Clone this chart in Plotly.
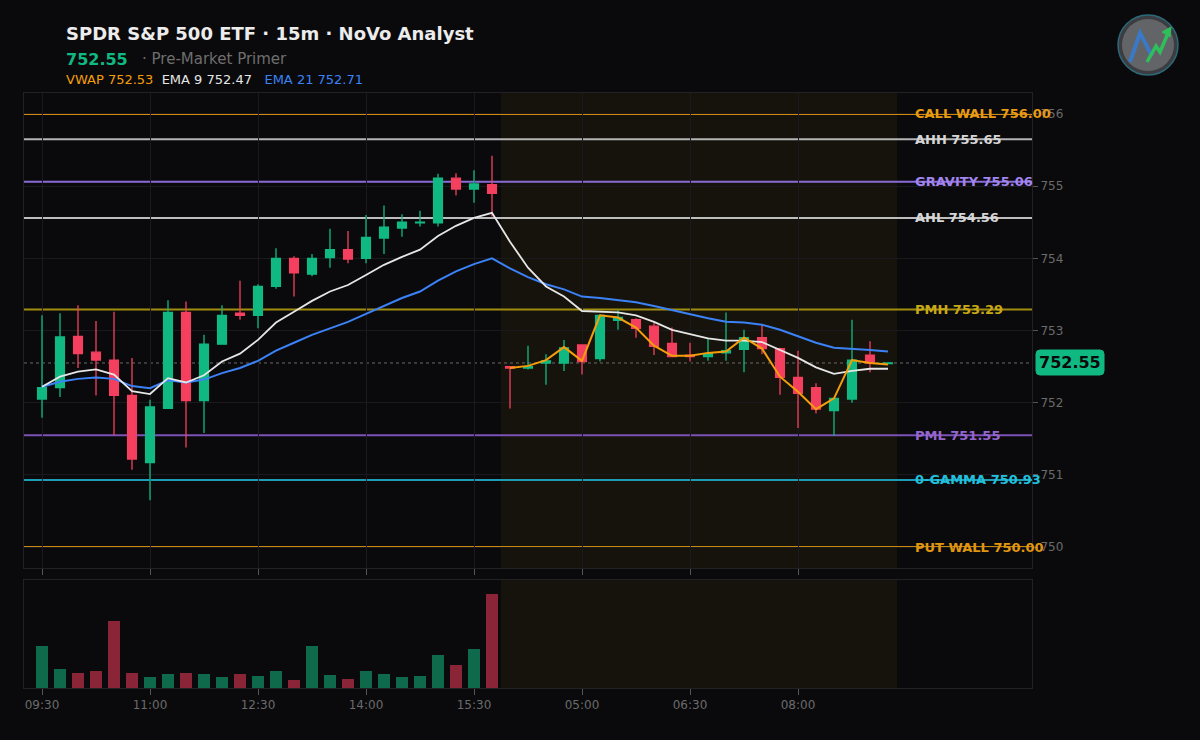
import plotly.graph_objects as go

# ---------------- data ----------------
x_idx = list(range(48))
tick_vals = [0, 6, 12, 18, 24, 30, 36, 42]
tick_text = ["09:30", "11:00", "12:30", "14:00", "15:30", "05:00", "06:30", "08:00"]

opens = [752.05, 752.21, 752.92, 752.70, 752.59, 752.10, 751.17, 751.92, 753.25, 752.03,
         752.81, 753.24, 753.21, 753.61, 754.00, 753.78, 754.01, 754.12, 754.00, 754.28,
         754.42, 754.49, 754.49, 755.11, 754.96, 755.02,
         752.50, 752.48, 752.55, 752.55, 752.80, 752.61, 753.14, 753.15, 753.06, 752.82,
         752.66, 752.64, 752.69, 752.74, 752.90, 752.75, 752.35, 752.21, 751.89, 752.05,
         752.66, 752.54]
highs = [753.21, 753.24, 753.35, 753.13, 753.26, 752.62, 752.04, 753.42, 753.40, 752.94,
         753.35, 753.69, 753.64, 754.14, 754.03, 754.06, 754.41, 754.38, 754.60, 754.73,
         754.61, 754.66, 755.17, 755.18, 755.22, 755.42,
         752.50, 752.79, 752.67, 752.87, 752.80, 753.21, 753.28, 753.17, 753.11, 753.04,
         752.83, 752.90, 753.25, 753.01, 753.09, 752.76, 752.72, 752.27, 752.06, 753.15,
         752.85, 752.56]
lows = [751.79, 752.08, 752.48, 752.10, 751.55, 751.07, 750.65, 751.92, 751.38, 751.58,
        752.81, 753.15, 753.03, 753.58, 753.47, 753.75, 753.87, 753.93, 753.93, 754.06,
        754.30, 754.44, 754.44, 754.87, 754.77, 754.58,
        751.92, 752.46, 752.25, 752.44, 752.39, 752.57, 753.01, 752.90, 752.66, 752.64,
        752.57, 752.58, 752.58, 752.42, 752.67, 752.11, 751.65, 751.85, 751.54, 752.00,
        752.42, 752.53]
closes = [752.21, 752.91, 752.68, 752.59, 752.10, 751.22, 751.94, 753.25, 752.03, 752.81,
          753.21, 753.21, 753.61, 754.00, 753.80, 754.00, 754.12, 753.99, 754.29, 754.43,
          754.50, 754.50, 755.11, 754.96, 755.03, 754.90,
          752.48, 752.50, 752.58, 752.76, 752.57, 753.21, 753.18, 753.03, 752.78, 752.64,
          752.64, 752.68, 752.72, 752.90, 752.75, 752.35, 752.13, 751.91, 752.06, 752.59,
          752.55, 752.55]

ema9 = [752.22, 752.36, 752.43, 752.46, 752.39, 752.16, 752.12, 752.34, 752.28, 752.38,
        752.57, 752.68, 752.87, 753.11, 753.26, 753.41, 753.54, 753.63, 753.77, 753.91,
        754.02, 754.12, 754.31, 754.45, 754.56, 754.63,
        754.23, 753.87, 753.61, 753.47, 753.27, 753.26, 753.25, 753.21, 753.12, 753.01,
        752.95, 752.89, 752.86, 752.86, 752.84, 752.73, 752.62, 752.49, 752.40, 752.44,
        752.47, 752.47]
ema21 = [752.22, 752.29, 752.33, 752.35, 752.33, 752.23, 752.20, 752.31, 752.28, 752.32,
         752.41, 752.48, 752.58, 752.72, 752.83, 752.94, 753.03, 753.12, 753.23, 753.34,
         753.45, 753.54, 753.69, 753.82, 753.92, 754.00,
         753.86, 753.74, 753.64, 753.57, 753.47, 753.45, 753.42, 753.39, 753.34, 753.28,
         753.22, 753.17, 753.12, 753.11, 753.08, 753.01, 752.92, 752.83, 752.76, 752.75,
         752.73, 752.71]
vwap_x = list(range(26, 48))
vwap = [752.48, 752.51, 752.59, 752.77, 752.58, 753.21, 753.18, 753.04, 752.79, 752.65,
        752.65, 752.69, 752.71, 752.90, 752.75, 752.36, 752.15, 751.91, 752.06, 752.59,
        752.55, 752.53]

vol_x = list(range(26))
volume_k = [1050, 475, 375, 425, 1675, 375, 275, 350, 375, 350, 275, 350, 300, 425, 200,
            1050, 325, 225, 425, 350, 275, 300, 825, 575, 975, 2350]

level_names = ["CALL WALL", "AHH", "GRAVITY", "AHL", "PMH", "PML", "0-GAMMA", "PUT WALL"]
level_values = [756.00, 755.65, 755.06, 754.56, 753.29, 751.55, 750.93, 750.00]
level_line_colors = ["#d4880e", "#b5b5b5", "#8a6bd6", "#bdbdbd", "#a08d10", "#7c52b6", "#1c9db5", "#c9870e"]
level_text_colors = ["#e89a12", "#d6d6d6", "#a285ee", "#d6d6d6", "#c8a816", "#9466ce", "#22c0dc", "#e0960f"]

last_price = 752.55
premarket_span = (25.5, 47.5)

# ---------------- layout helpers ----------------
W, H = 1200, 740
L, R, T, B = 24, 168, 93, 52
PW, PH = W - L - R, H - T - B
X_RANGE = [-1, 55]
Y_RANGE = [749.71, 756.29]


def px(xp):
    return (xp - L) / PW


def py(yp):
    return (H - B - yp) / PH


GREEN, RED = "#10b981", "#f43f5e"
VGREEN, VRED = "#0e6a4b", "#8a2538"
FONT = "DejaVu Sans"

fig = go.Figure()

fig.add_trace(go.Candlestick(
    x=x_idx, open=opens, high=highs, low=lows, close=closes,
    increasing=dict(line=dict(color=GREEN, width=1.3), fillcolor=GREEN),
    decreasing=dict(line=dict(color=RED, width=1.3), fillcolor=RED),
    whiskerwidth=0, xaxis="x", yaxis="y", hoverinfo="skip",
))
fig.add_trace(go.Scatter(x=x_idx, y=ema21, mode="lines", line=dict(color="#3b82f6", width=2),
                         xaxis="x", yaxis="y", hoverinfo="skip"))
fig.add_trace(go.Scatter(x=x_idx, y=ema9, mode="lines", line=dict(color="#e6e6e6", width=1.8),
                         xaxis="x", yaxis="y", hoverinfo="skip"))
fig.add_trace(go.Scatter(x=vwap_x, y=vwap, mode="lines", line=dict(color="#f59e0b", width=2),
                         xaxis="x", yaxis="y", hoverinfo="skip"))

vol_colors = [VGREEN if c >= o else VRED for o, c in zip(opens[:26], closes[:26])]
fig.add_trace(go.Bar(x=vol_x, y=volume_k, marker=dict(color=vol_colors, line=dict(width=0)),
                     width=0.66, xaxis="x2", yaxis="y2", hoverinfo="skip"))

shapes = []
# premarket shading in both panels
shapes.append(dict(type="rect", xref="x", yref="paper", x0=premarket_span[0], x1=premarket_span[1],
                   y0=py(568), y1=py(93), fillcolor="#16130d", line=dict(width=0), layer="below"))
shapes.append(dict(type="rect", xref="x", yref="paper", x0=premarket_span[0], x1=premarket_span[1],
                   y0=py(688), y1=py(580), fillcolor="#16130d", line=dict(width=0), layer="below"))
# level lines
for v, c in zip(level_values, level_line_colors):
    shapes.append(dict(type="line", xref="x", yref="y", x0=X_RANGE[0], x1=X_RANGE[1], y0=v, y1=v,
                       line=dict(color=c, width=2), layer="below"))
# last price dotted line
shapes.append(dict(type="line", xref="x", yref="y", x0=X_RANGE[0], x1=X_RANGE[1], y0=last_price, y1=last_price,
                   line=dict(color="#6a6a6a", width=1, dash="dot"), layer="below"))


def ppath(pts):
    return "M " + " L ".join(f"{px(a):.5f},{py(b):.5f}" for a, b in pts)


# rounded price badge (decorative background for the last-price label)
bx0, bx1, by0, by1, rr = 1036, 1104, 350, 375, 4
badge = [(bx0 + rr, by0), (bx1 - rr, by0), (bx1 - 1, by0 + 1), (bx1, by0 + rr), (bx1, by1 - rr),
         (bx1 - 1, by1 - 1), (bx1 - rr, by1), (bx0 + rr, by1), (bx0 + 1, by1 - 1), (bx0, by1 - rr),
         (bx0, by0 + rr), (bx0 + 1, by0 + 1)]
shapes.append(dict(type="path", xref="paper", yref="paper", path=ppath(badge) + " Z",
                   fillcolor=GREEN, line=dict(color=GREEN, width=1), layer="above"))

# logo (decorative)
shapes.append(dict(type="circle", xref="paper", yref="paper",
                   x0=px(1118), x1=px(1178), y0=py(75), y1=py(15),
                   fillcolor="#3c3d40", line=dict(color="#2c6a7a", width=1.5), layer="above"))
shapes.append(dict(type="circle", xref="paper", yref="paper",
                   x0=px(1122), x1=px(1174), y0=py(71), y1=py(19),
                   fillcolor="#626467", line=dict(width=0), layer="above"))
shapes.append(dict(type="path", xref="paper", yref="paper",
                   path=ppath([(1130, 62), (1140, 33), (1152, 56)]),
                   line=dict(color="#3a78c8", width=4), layer="above"))
shapes.append(dict(type="path", xref="paper", yref="paper",
                   path=ppath([(1147, 62), (1156, 46), (1160, 52), (1169, 31)]),
                   line=dict(color="#2fbf5a", width=3.5), layer="above"))
shapes.append(dict(type="path", xref="paper", yref="paper",
                   path=ppath([(1162, 32), (1171, 27), (1170, 37)]) + " Z",
                   fillcolor="#2fbf5a", line=dict(color="#2fbf5a", width=1), layer="above"))

annotations = []
for name, v, c in zip(level_names, level_values, level_text_colors):
    annotations.append(dict(xref="paper", yref="y", x=px(913), y=v, xanchor="left", yanchor="middle",
                            text=f"<b>{name} {v:.2f}</b>", showarrow=False,
                            font=dict(family=FONT, size=13, color=c)))

annotations.append(dict(xref="paper", yref="y", x=px((bx0 + bx1) / 2), y=last_price,
                        xanchor="center", yanchor="middle",
                        text=f"<b>{last_price:.2f}</b>", showarrow=False,
                        font=dict(family=FONT, size=16, color="#0a0a0a")))

# header
annotations.append(dict(xref="paper", yref="paper", x=px(64), y=py(34), xanchor="left", yanchor="middle",
                        text="<b>SPDR S&amp;P 500 ETF · 15m · NoVo Analyst</b>", showarrow=False,
                        font=dict(family=FONT, size=18, color="#ececec")))
annotations.append(dict(xref="paper", yref="paper", x=px(64), y=py(60), xanchor="left", yanchor="middle",
                        text=f"<b>{last_price:.2f}</b>", showarrow=False,
                        font=dict(family=FONT, size=16, color=GREEN)))
annotations.append(dict(xref="paper", yref="paper", x=px(140), y=py(59), xanchor="left", yanchor="middle",
                        text="· Pre-Market Primer", showarrow=False,
                        font=dict(family=FONT, size=15, color="#6e6e6e")))
annotations.append(dict(xref="paper", yref="paper", x=px(64), y=py(79), xanchor="left", yanchor="middle",
                        text=f"<span style='color:#f59e0b'>VWAP {vwap[-1]:.2f}</span>  "
                             f"<span style='color:#e6e6e6'>EMA 9 {ema9[-1]:.2f}</span>   "
                             f"<span style='color:#3b82f6'>EMA 21 {ema21[-1]:.2f}</span>",
                        showarrow=False, font=dict(family=FONT, size=13, color="#e6e6e6")))

axis_common = dict(showline=True, mirror=True, linecolor="#222226", linewidth=1, zeroline=False)

fig.update_layout(
    width=W, height=H,
    margin=dict(l=L, r=R, t=T, b=B),
    paper_bgcolor="#0a0a0c", plot_bgcolor="#0a0a0d",
    showlegend=False, bargap=0,
    font=dict(family=FONT, size=12, color="#6b6b6b"),
    xaxis=dict(domain=[0, 1], anchor="y", range=X_RANGE, tickvals=tick_vals, ticktext=tick_text,
               showticklabels=False, ticks="outside", ticklen=6, tickcolor="#555",
               showgrid=True, gridcolor="#1a1a1e", gridwidth=1,
               rangeslider=dict(visible=False), **axis_common),
    yaxis=dict(domain=[py(568), 1], anchor="x", side="right", range=Y_RANGE,
               tickvals=[750, 751, 752, 753, 754, 755, 756], ticktext=["750", "751", "752", "753", "754", "755", "756"],
               ticks="outside", ticklen=5, tickcolor="#555", showgrid=True, gridcolor="#1a1a1e",
               tickfont=dict(family=FONT, size=12, color="#6b6b6b"), **axis_common),
    xaxis2=dict(domain=[0, 1], anchor="y2", range=X_RANGE, tickvals=tick_vals, ticktext=tick_text,
                ticks="outside", ticklen=6, tickcolor="#555", showgrid=False,
                tickfont=dict(family=FONT, size=12, color="#6b6b6b"), **axis_common),
    yaxis2=dict(domain=[0, py(580)], anchor="x2", range=[0, 2700], showticklabels=False,
                showgrid=False, ticks="", **axis_common),
    shapes=shapes, annotations=annotations,
)

fig.write_html("out.html")
